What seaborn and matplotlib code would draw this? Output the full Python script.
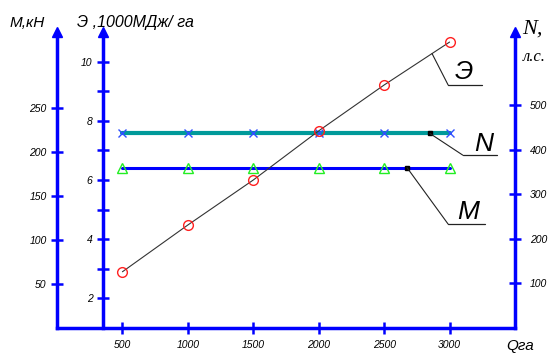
import numpy as np
import pandas as pd
import matplotlib
matplotlib.use("Agg")
import matplotlib.pyplot as plt
import seaborn as sns

# ---- data ----
Q = [500, 1000, 1500, 2000, 2500, 3000]
E = [2.90, 4.48, 6.00, 7.66, 9.21, 10.66]       # Э, 1000 МДж/га
N = [437, 437, 437, 437, 437, 437]              # N, л.с.
M = [182, 182, 182, 182, 182, 182]              # M, кН
x_ticks = [500, 1000, 1500, 2000, 2500, 3000]
m_ticks = [50, 100, 150, 200, 250]
e_ticks = [2, 3, 4, 5, 6, 7, 8, 9, 10]
e_labels = ["2", "", "4", "", "6", "", "8", "", "10"]
n_ticks = [100, 200, 300, 400, 500]

df = pd.DataFrame({"Q": Q, "E": E, "N": N, "M": M})

sns.set_theme(style="white")
plt.rcParams["font.family"] = ["Liberation Sans", "DejaVu Sans"]
plt.rcParams["font.style"] = "italic"
plt.rcParams["text.color"] = "black"

BLUE = "#0000ff"
SPW = 2.5

fig = plt.figure(figsize=(5.57, 3.54), dpi=100)
ax = fig.add_axes([57 / 557, 26 / 354, 458 / 557, 296 / 354])
axN = ax.twinx()
axE = ax.twinx()

# series
sns.lineplot(data=df, x="Q", y="M", ax=ax, color=BLUE, lw=2.2, marker="^",
             markersize=7.5, markerfacecolor="none", markeredgecolor="#22ee22",
             markeredgewidth=1.0)
sns.lineplot(data=df, x="Q", y="N", ax=axN, color="#009a9a", lw=3.0, marker="x",
             markersize=6, markeredgecolor="#3050ff", markeredgewidth=1.0)
sns.lineplot(data=df, x="Q", y="E", ax=axE, color="#333333", lw=0.8, marker="o",
             markersize=7, markerfacecolor="none", markeredgecolor="#ff2020",
             markeredgewidth=1.0)

ax.set_xlim(0, 3500)
ax.set_ylim(0, 336)
axN.set_ylim(0, 665)
axE.set_ylim(1, 11)
for a in (ax, axN, axE):
    a.set_xlabel("")
    a.set_ylabel("")
    a.grid(False)
    for s in a.spines.values():
        s.set_visible(False)
ax.patch.set_visible(False)

# M axis (left)
ax.spines["left"].set_visible(True)
ax.spines["bottom"].set_visible(True)
for s in ("left", "bottom"):
    ax.spines[s].set_color(BLUE)
    ax.spines[s].set_linewidth(SPW)
ax.set_xticks(x_ticks)
ax.set_xticklabels([str(v) for v in x_ticks])
ax.set_yticks(m_ticks)
ax.set_yticklabels([str(v) for v in m_ticks])
ax.tick_params(axis="both", direction="inout", length=9, width=1.8, color=BLUE,
               labelsize=7.5, labelcolor="black")
ax.tick_params(axis="x", pad=4)
ax.tick_params(axis="y", pad=3, left=True)
ax.tick_params(axis="x", bottom=True)

# Э axis (inner left)
axE.spines["left"].set_visible(True)
axE.spines["left"].set_position(("data", 352))
axE.spines["left"].set_color(BLUE)
axE.spines["left"].set_linewidth(SPW)
axE.yaxis.set_ticks_position("left")
axE.yaxis.set_label_position("left")
axE.set_yticks(e_ticks)
axE.set_yticklabels(e_labels)
axE.tick_params(axis="y", direction="inout", length=9, width=1.8, color=BLUE,
                labelsize=7.5, labelcolor="black", pad=3)

# N axis (right)
axN.spines["right"].set_visible(True)
axN.spines["right"].set_color(BLUE)
axN.spines["right"].set_linewidth(SPW)
axN.set_yticks(n_ticks)
axN.set_yticklabels([str(v) for v in n_ticks])
axN.tick_params(axis="y", direction="inout", length=9, width=1.8, color=BLUE,
                labelsize=7.5, labelcolor="black", pad=6)

# axis arrow heads
xt = ax.get_xaxis_transform()
for xx, tr in ((0, ax.transAxes), (352, xt), (1, ax.transAxes)):
    ax.plot([xx], [1.0], marker="^", markersize=7, color=BLUE, transform=tr,
            clip_on=False, zorder=5)

# leader annotations
def leader(axis, xq, yq, elbow, end, label, textpos, dot=False):
    axis.annotate("", xy=(xq, yq), xycoords="data", xytext=elbow,
                  textcoords="axes fraction",
                  arrowprops=dict(arrowstyle="-", lw=0.8, color="#222222",
                                  shrinkA=0, shrinkB=0))
    axis.plot([elbow[0], end[0]], [elbow[1], end[1]], color="#222222", lw=0.9,
              transform=axis.transAxes, clip_on=False)
    if dot:
        axis.plot([xq], [yq], marker="s", markersize=2.5, color="black")
    axis.text(textpos[0], textpos[1], label, transform=axis.transAxes,
              ha="center", va="center", fontsize=19, style="italic",
              color="black")

xe = 2866
leader(axE, xe, float(np.interp(xe, Q, E)), (0.854, 0.821), (0.928, 0.821),
       "Э", (0.889, 0.866))
xn = 2850
leader(axN, xn, float(np.interp(xn, Q, N)), (0.886, 0.584), (0.961, 0.584),
       "N", (0.932, 0.622), dot=True)
xm = 2675
leader(ax, xm, float(np.interp(xm, Q, M)), (0.854, 0.351), (0.934, 0.351),
       "M", (0.897, 0.393), dot=True)

# axis titles
fig.text(10 / 557, 1 - 23 / 354, "М,кН", ha="left", va="center", fontsize=11,
         style="italic")
fig.text(77 / 557, 1 - 23 / 354, "Э ,1000МДж/ га", ha="left", va="center",
         fontsize=11.5, style="italic")
fig.text(522 / 557, 1 - 29 / 354, "N,", ha="left", va="center", fontsize=16,
         style="italic", family=["Liberation Serif", "DejaVu Serif"])
fig.text(523 / 557, 1 - 57 / 354, "л.с.", ha="left", va="center", fontsize=12,
         style="italic", family=["Liberation Serif", "DejaVu Serif"])
fig.text(506 / 557, 1 - 346 / 354, "Qга", ha="left", va="center", fontsize=11,
         style="italic")

fig.savefig("out.png", dpi=100, facecolor="white")
